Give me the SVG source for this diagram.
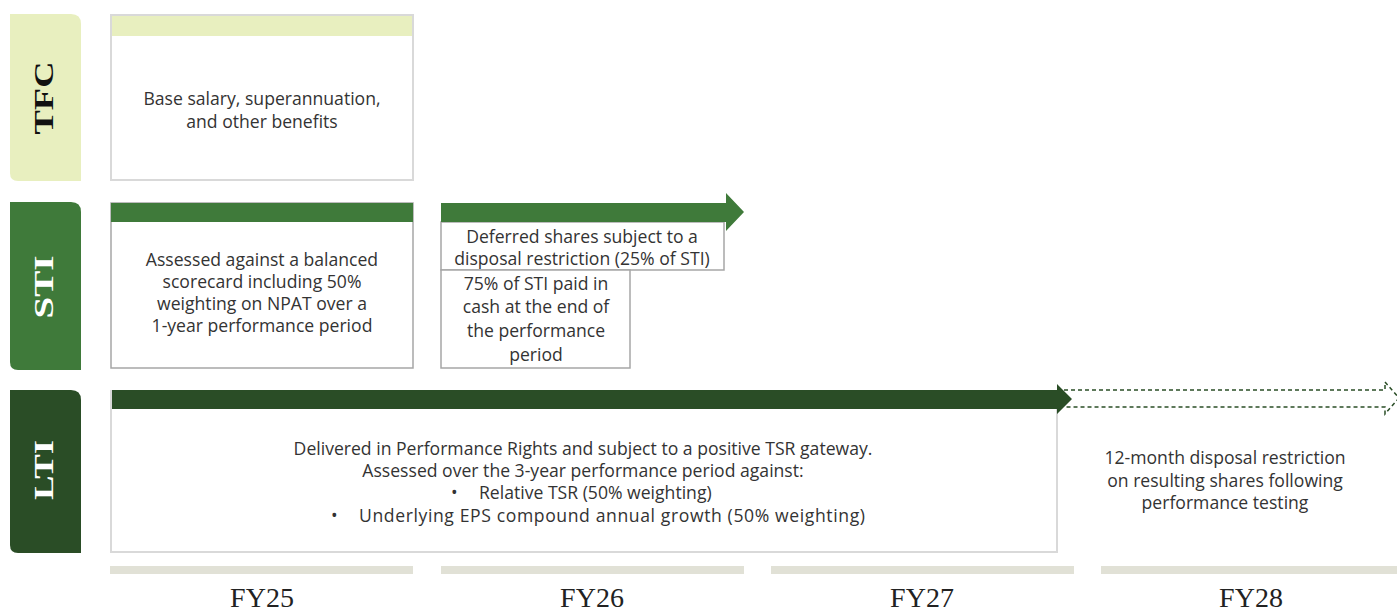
<svg xmlns="http://www.w3.org/2000/svg" width="1397" height="614" viewBox="0 0 1397 614">
<defs>
<style>
.box{fill:#fff;stroke:#d9d9d9;stroke-width:2}
.box2{fill:#fff;stroke:#a6a6a6;stroke-width:1.5}
.t{font-family:"Open Sans","Liberation Sans",Arial,sans-serif;font-size:17.6px;fill:#333;text-anchor:middle}
.l{text-anchor:start}
.tab{font-family:"Liberation Serif","Times New Roman",serif;font-size:27px;font-weight:bold;text-anchor:middle}
.yr{font-family:"Liberation Serif","Times New Roman",serif;font-size:28px;fill:#222;text-anchor:middle}
.bar{fill:#e1e1d6}
.dash{fill:none;stroke:#2a4d26;stroke-width:1.5;stroke-dasharray:4 3}
</style>
</defs>
<g id="tab-tfc">
<path d="M10 14 H71 Q81 14 81 24 V181 H18 Q10 181 10 173 Z" fill="#e8efbf"/>
<text class="tab" transform="translate(53 98) rotate(-90)" fill="#111" textLength="73" lengthAdjust="spacingAndGlyphs">TFC</text>
</g>
<g id="tab-sti">
<path d="M10 202 H71 Q81 202 81 212 V370 H18 Q10 370 10 362 Z" fill="#3f7a3a"/>
<text class="tab" transform="translate(53 287) rotate(-90)" fill="#fff" textLength="63" lengthAdjust="spacingAndGlyphs">STI</text>
</g>
<g id="tab-lti">
<path d="M10 390 H71 Q81 390 81 400 V553 H18 Q10 553 10 545 Z" fill="#2a4d26"/>
<text class="tab" transform="translate(53 470) rotate(-90)" fill="#fff" textLength="60" lengthAdjust="spacingAndGlyphs">LTI</text>
</g>
<g id="tfc-box">
<rect class="box" x="111" y="15" width="302" height="165"/>
<rect x="112" y="16" width="300" height="20" fill="#e8efbf"/>
<text class="t" x="262" y="105">Base salary, superannuation,</text>
<text class="t" x="262" y="128">and other benefits</text>
</g>
<g id="sti-box">
<rect class="box2" x="111" y="203" width="302" height="165"/>
<rect x="111" y="203" width="302" height="19" fill="#3f7a3a"/>
<text class="t" x="262" y="266">Assessed against a balanced</text>
<text class="t" x="262" y="288">scorecard including 50%</text>
<text class="t" x="262" y="310">weighting on NPAT over a</text>
<text class="t" x="262" y="332">1-year performance period</text>
</g>
<g id="sti-deferred">
<rect class="box2" x="441" y="222" width="283" height="48"/>
<text class="t" x="582" y="243">Deferred shares subject to a</text>
<text class="t" x="582" y="265">disposal restriction (25% of STI)</text>
</g>
<g id="sti-cash">
<rect class="box2" x="441" y="270" width="189" height="98"/>
<text class="t" x="536" y="290">75% of STI paid in</text>
<text class="t" x="536" y="313">cash at the end of</text>
<text class="t" x="536" y="337">the performance</text>
<text class="t" x="536" y="361">period</text>
</g>
<g id="lti-box">
<rect class="box" x="111" y="391" width="946" height="161"/>
<text class="t" x="583" y="455">Delivered in Performance Rights and subject to a positive TSR gateway.</text>
<text class="t" x="583" y="477">Assessed over the 3-year performance period against:</text>
<text class="t l" x="451" y="499">•</text>
<text class="t l" x="479" y="499">Relative TSR (50% weighting)</text>
<text class="t l" x="331" y="522">•</text>
<text class="t l" x="359" y="522" textLength="506" lengthAdjust="spacing">Underlying EPS compound annual growth (50% weighting)</text>
</g>
<g id="fy28-text">
<text class="t" x="1225" y="464">12-month disposal restriction</text>
<text class="t" x="1225" y="487">on resulting shares following</text>
<text class="t" x="1225" y="509">performance testing</text>
</g>
<g id="connectors">
<path d="M441 203 H726 V193 L744 212 L726 231 V222 H441 Z" fill="#3f7a3a"/>
<path d="M112 390 H1057 V384 L1072 399 L1057 414 V409 H112 Z" fill="#2a4d26"/>
<path class="dash" d="M1064 390 H1385 V382 L1399 398 L1385 414 V407 H1064"/>
</g>
<g id="timeline">
<rect class="bar" x="110" y="566" width="303" height="8"/>
<rect class="bar" x="441" y="566" width="303" height="8"/>
<rect class="bar" x="771" y="566" width="303" height="8"/>
<rect class="bar" x="1101" y="566" width="296" height="8"/>
<text class="yr" x="262" y="607">FY25</text>
<text class="yr" x="592" y="607">FY26</text>
<text class="yr" x="922" y="607">FY27</text>
<text class="yr" x="1251" y="607">FY28</text>
</g>
</svg>
